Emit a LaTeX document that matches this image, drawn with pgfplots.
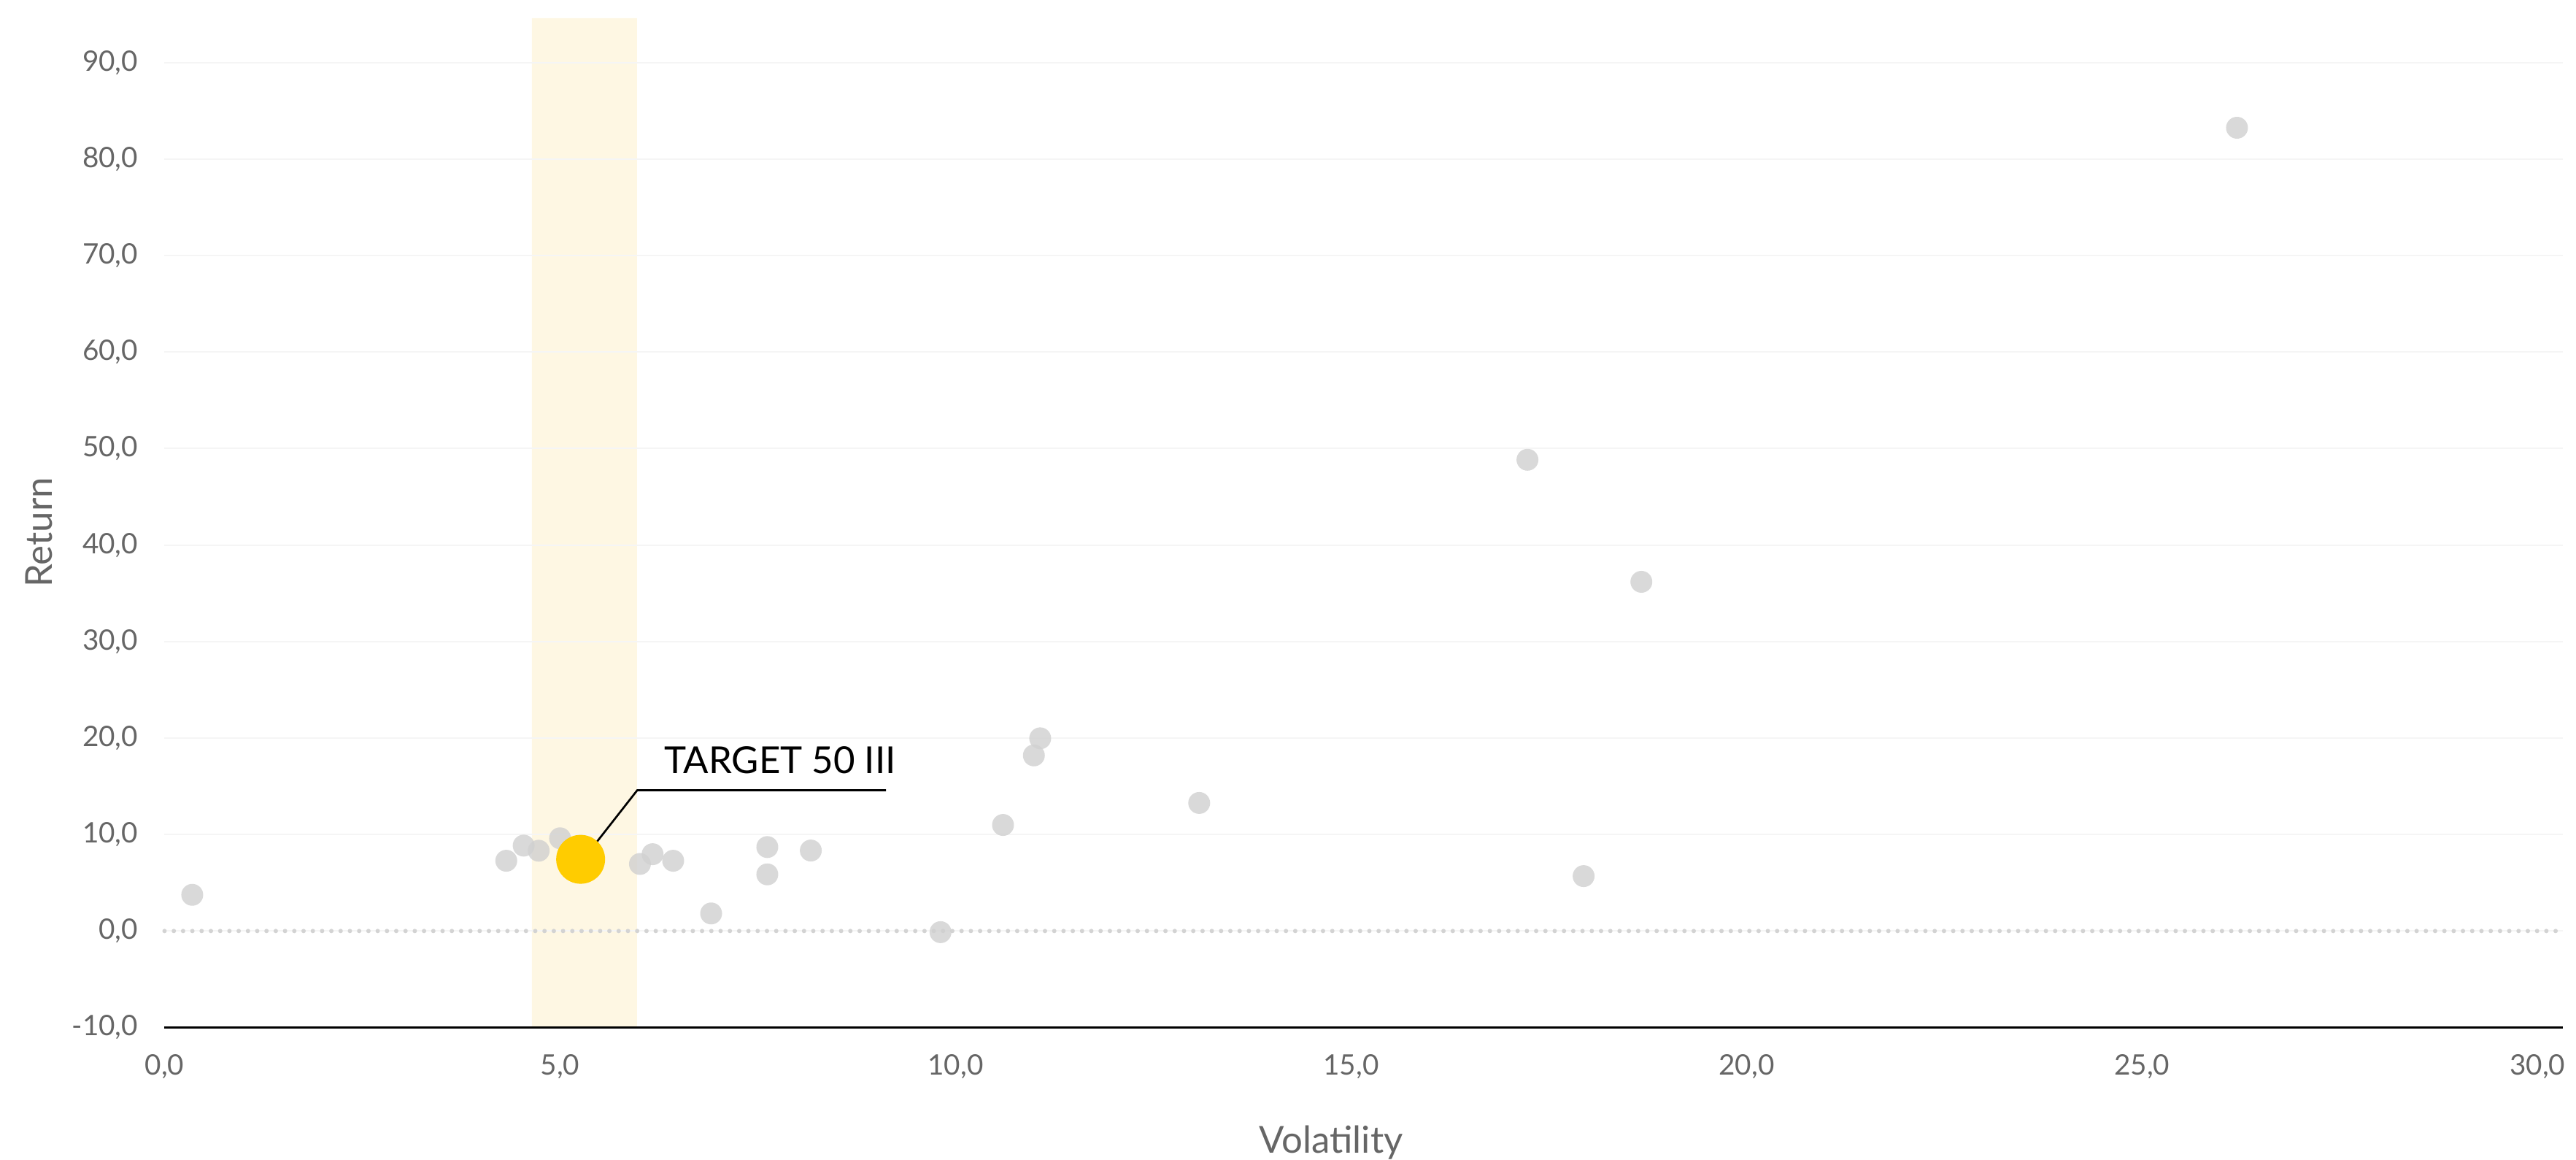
\documentclass[border=0pt]{standalone}
\usepackage{pgfplots}
\pgfplotsset{compat=1.18}
\usepackage{fontspec}
\setmainfont{Lato}
\definecolor{tickgray}{HTML}{666666}
\definecolor{ptgray}{HTML}{D0D0D0}
\definecolor{ylw}{HTML}{FFCC00}
\definecolor{bandc}{HTML}{FEF7E3}
\definecolor{gridc}{HTML}{F5F5F5}
\definecolor{zeroc}{HTML}{D3D3D3}

\pgfplotstableread{
x y
0.35 3.75
4.32 7.28
4.54 8.85
4.73 8.32
5.00 9.61
6.01 6.95
6.17 7.96
6.43 7.28
6.91 1.82
7.62 8.70
7.62 5.87
8.17 8.34
9.81 -0.12
10.60 10.99
10.99 18.20
11.07 19.97
13.08 13.27
17.23 48.84
17.94 5.69
18.67 36.19
26.20 83.25
}\others

\begin{document}
\begin{tikzpicture}[x=1cm,y=1cm]
\begin{axis}[
  set layers=standard,
  scale only axis,
  width=32.865cm, height=13.825cm,
  at={(0,0)}, anchor=south west,
  xmin=0, xmax=30.32, ymin=-10, ymax=94.6,
  clip=false,
  axis lines=left,
  x axis line style={-, black, line width=0.033cm},
  y axis line style={draw=none},
  tick style={draw=none},
  major tick length=0pt,
  xtick={0,5,10,15,20,25,30},
  xticklabels={{0,0},{5,0},{10,0},{15,0},{20,0},{25,0},{30,0}},
  ytick={-10,0,10,20,30,40,50,60,70,80,90},
  yticklabels={{-10,0},{0,0},{10,0},{20,0},{30,0},{40,0},{50,0},{60,0},{70,0},{80,0},{90,0}},
  ticklabel style={font=\fontsize{11}{13}\selectfont, text=tickgray},
  xticklabel style={yshift=-0.25cm},
  yticklabel style={xshift=-0.24cm},
  ymajorgrids,
  grid style={gridc, line width=0.02cm},
]
\addplot[fill=bandc, draw=none, on layer=axis background] coordinates {(4.645,-10) (5.973,-10) (5.973,94.6) (4.645,94.6) (4.645,-10)};
\addplot[zeroc, line width=0.06cm, dash pattern=on 0pt off 0.127cm, line cap=round] coordinates {(0,0) (30.32,0)};
\addplot[only marks, color=ptgray, mark=*, mark size=0.15cm, mark options={draw opacity=0, fill opacity=0.8}] table[x=x,y=y] {\others};
\addplot[only marks, color=ylw, mark=*, mark size=0.335cm, mark options={draw opacity=0}] coordinates {(5.26,7.43)};
\draw[black, line width=0.027cm] (axis cs:5.30,7.51) -- (axis cs:5.976,14.59) -- (axis cs:9.12,14.59);
\node[anchor=base west, inner sep=0pt, font=\fontsize{14.5}{17}\selectfont] at (axis cs:6.31,16.30) {TARGET 50 III};
\node[anchor=base, inner sep=0pt, text=tickgray, font=\fontsize{14.5}{17}\selectfont] at (axis cs:14.75,-23.0) {Volatility};
\node[anchor=base, rotate=90, inner sep=0pt, text=tickgray, font=\fontsize{14.5}{17}\selectfont] at (axis cs:-1.425,41.3) {Return};
\end{axis}
\pgfresetboundingbox
\path[use as bounding box] (-2.255,-1.815) rectangle (33.045,14.075);
\end{tikzpicture}
\end{document}
